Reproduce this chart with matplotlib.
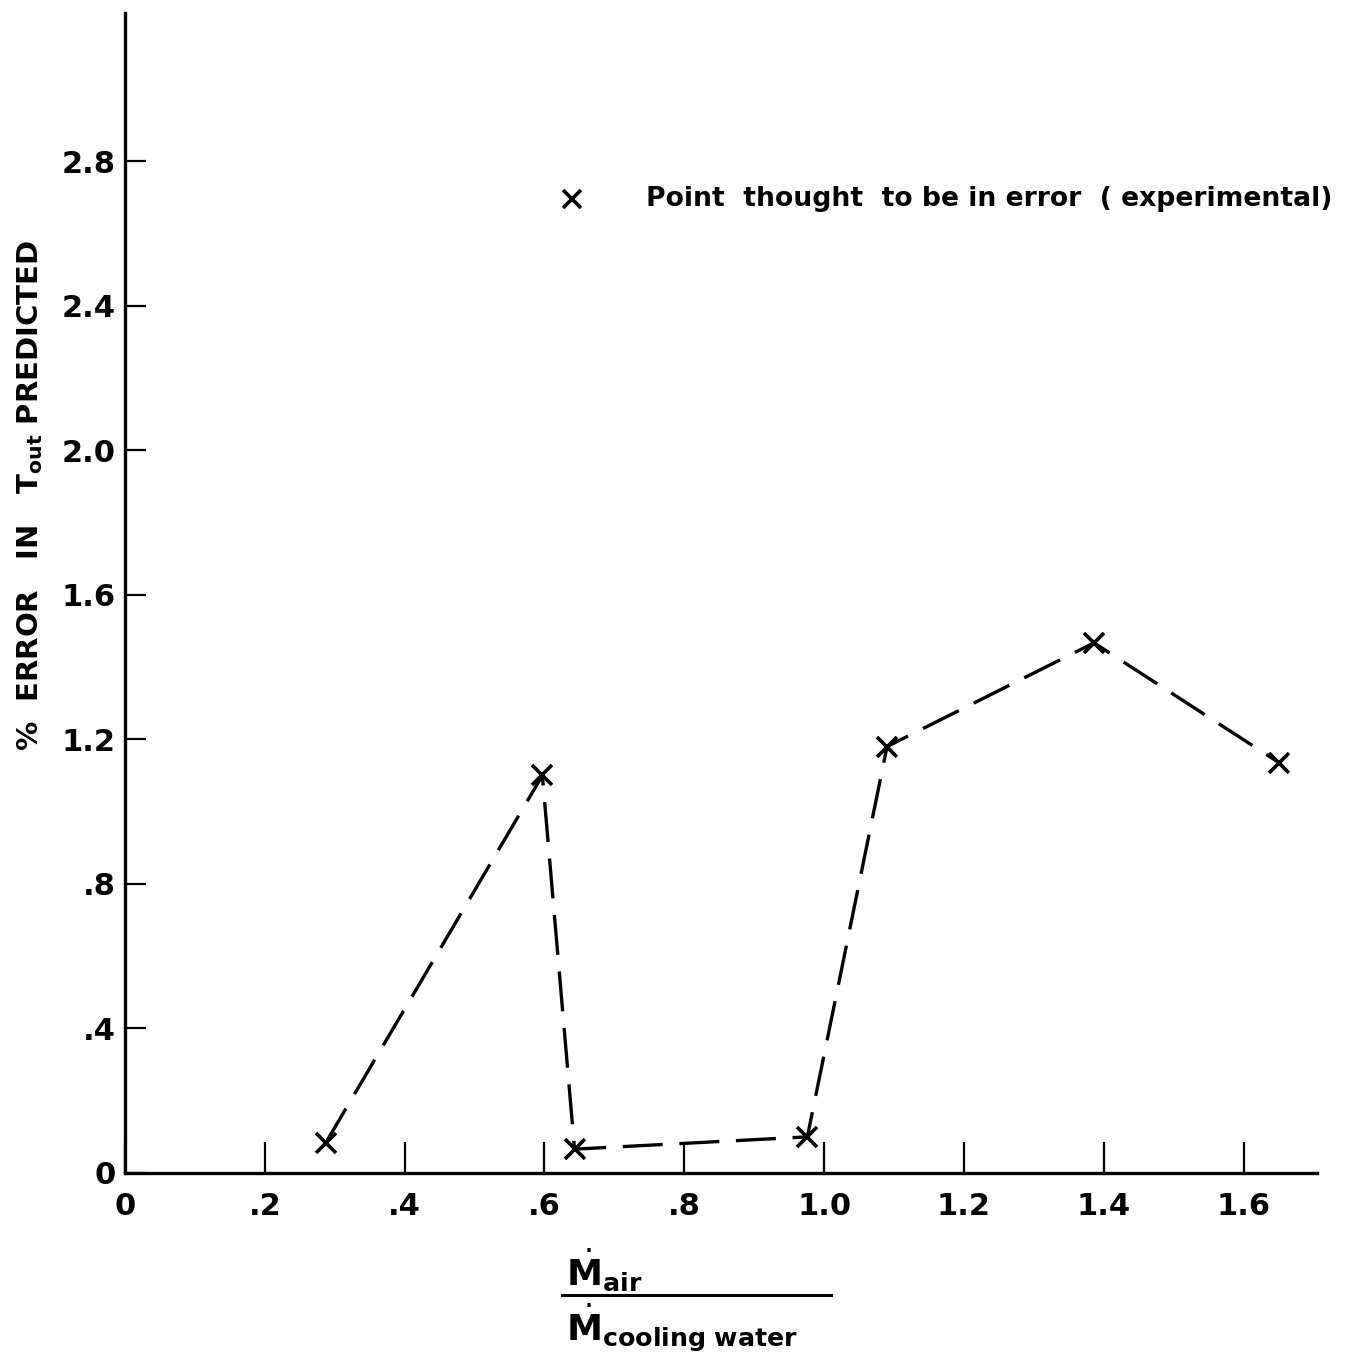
import matplotlib
matplotlib.use('Agg')
import matplotlib.pyplot as plt
from matplotlib.lines import Line2D

# 数据
mass_ratio = [0.287, 0.597, 0.643, 0.976, 1.09, 1.386, 1.651]
pct_error = [0.083, 1.10, 0.066, 0.10, 1.18, 1.467, 1.135]

x_ticks = [0, 0.2, 0.4, 0.6, 0.8, 1.0, 1.2, 1.4, 1.6]
x_tick_labels = ['0', '.2', '.4', '.6', '.8', '1.0', '1.2', '1.4', '1.6']
y_ticks = [0, 0.4, 0.8, 1.2, 1.6, 2.0, 2.4, 2.8]
y_tick_labels = ['0', '.4', '.8', '1.2', '1.6', '2.0', '2.4', '2.8']

plt.rcParams['font.family'] = ['DejaVu Sans']
plt.rcParams['mathtext.fontset'] = 'dejavusans'

W, H = 1359, 1356
fig = plt.figure(figsize=(W / 100, H / 100), dpi=100, facecolor='white')
ax = fig.add_axes([125 / W, 1 - 1173 / H, (1317 - 125) / W, (1173 - 13) / H])

ax.plot(mass_ratio, pct_error, color='black', lw=2.4, dashes=(12, 5),
        marker='x', markersize=15, markeredgewidth=2.6)

ax.set_xlim(0, 1.705)
ax.set_ylim(0, 3.21)

for s in ['top', 'right']:
    ax.spines[s].set_visible(False)
for s in ['left', 'bottom']:
    ax.spines[s].set_linewidth(2.4)

ax.set_xticks(x_ticks)
ax.set_xticklabels(x_tick_labels)
ax.set_yticks(y_ticks)
ax.set_yticklabels(y_tick_labels)
ax.tick_params(axis='x', direction='in', length=22, width=1.6, pad=14,
               labelsize=22)
ax.tick_params(axis='y', direction='in', length=15, width=1.6, pad=7,
               labelsize=22)
for lab in ax.get_xticklabels() + ax.get_yticklabels():
    lab.set_fontweight('bold')

# 图例说明
ax.plot([0.64], [2.695], marker='x', color='black', markersize=13,
        markeredgewidth=2.6, linestyle='none')
ax.text(0.745, 2.695, 'Point  thought  to be in error  ( experimental)',
        fontsize=19.2, fontweight='bold', va='center', ha='left')

# y轴标题
fig.text(30 / W, 1 - 495 / H,
         r'%  ERROR   IN   T$_{\mathbf{out}}$ PREDICTED',
         rotation=90, fontsize=21, fontweight='bold', ha='center', va='center')

# x轴标题 (分数形式)
fig.text(566 / W, 1 - 1270 / H, r'$\dot{\mathbf{M}}_{\mathbf{air}}$',
         fontsize=26, ha='left', va='center')
fig.add_artist(Line2D([562 / W, 831 / W], [1 - 1295 / H, 1 - 1295 / H],
                      color='black', lw=2.2))
fig.text(566 / W, 1 - 1328 / H, r'$\dot{\mathbf{M}}_{\mathbf{cooling\ water}}$',
         fontsize=26, ha='left', va='center')

plt.savefig('out.png', dpi=100, facecolor='white')
